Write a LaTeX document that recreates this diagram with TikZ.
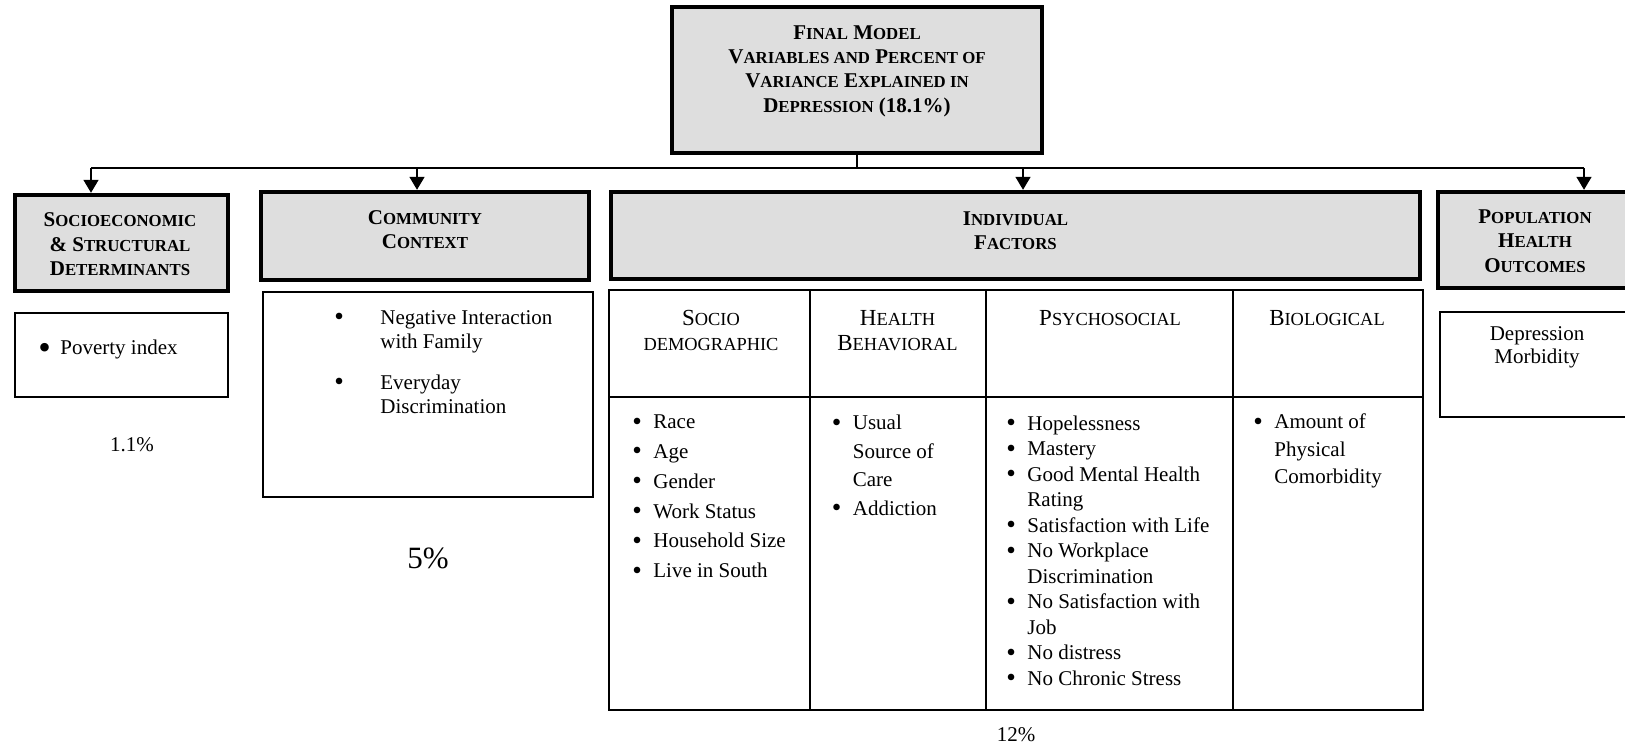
\documentclass[tikz,border=0pt]{standalone}
\usepackage{fontspec}
\setmainfont{Liberation Serif}
\usetikzlibrary{arrows.meta,positioning}
\newcommand{\smc}[1]{\scalebox{0.8}{#1}}
\newcommand{\dotb}{\raisebox{-0.07em}{\scalebox{1.3}{\textbullet}}}
\newcommand{\bul}{\makebox[10.5pt][l]{\dotb}}
\newcommand{\indnt}{\hspace*{10.5pt}}
\newcommand{\cbul}{\makebox[23pt][l]{\dotb}}
\newcommand{\cindnt}{\hspace*{23pt}}
\tikzset{head box/.style={draw,line width=2.2pt,fill=black!13,inner sep=0pt},
         item box/.style={draw,line width=0.8pt,fill=white,inner sep=0pt},
         head text/.style={align=center,inner sep=0pt,font=\bfseries\fontsize{10.5}{12.2}\selectfont},
         cell head/.style={align=center,inner sep=0pt,font=\fontsize{11.5}{12.5}\selectfont},
         item list/.style={align=left,anchor=west,inner sep=0pt},
         pct/.style={inner sep=0pt},
         conn/.style={line width=0.8pt},
}

\begin{document}
\begin{tikzpicture}[x=0.5pt,y=-0.5pt,font=\fontsize{10.5}{12}\selectfont]
\useasboundingbox (0,0) rectangle (1625,747);
% grey heading boxes
\node[head box,minimum width=185pt,minimum height=73pt] (final) at (857,80) {};
\node[head box,minimum width=106.5pt,minimum height=48pt] (soc) at (121.5,243) {};
\node[head box,minimum width=164pt,minimum height=44pt] (com) at (425,236) {};
\node[head box,minimum width=404.5pt,minimum height=43.5pt] (ind) at (1015.5,235.5) {};
\node[head box,minimum width=97pt,minimum height=48pt] (pop) at (1535,240) {};

\node[head text] (final text) at (857,71) {F\smc{INAL} M\smc{ODEL}\\
    V\smc{ARIABLES AND} P\smc{ERCENT OF}\\
    V\smc{ARIANCE} E\smc{XPLAINED IN}\\
    D\smc{EPRESSION} (18.1\%)};
\node[head text] (soc text) at (120,244.5) {S\smc{OCIOECONOMIC}\\ \& S\smc{TRUCTURAL}\\ D\smc{ETERMINANTS}};
\node[head text] (com text) at (425,229.5) {C\smc{OMMUNITY}\\ C\smc{ONTEXT}};
\node[head text] (ind text) at (1015.5,230.5) {I\smc{NDIVIDUAL}\\ F\smc{ACTORS}};
\node[head text] (pop text) at (1535,241) {P\smc{OPULATION}\\ H\smc{EALTH}\\ O\smc{UTCOMES}};

% white boxes
\node[item box,minimum width=106.5pt,minimum height=42pt] (pov) at (121.5,355) {};
\node[item box,minimum width=165pt,minimum height=102.5pt] (comm) at (428,394.5) {};
\node[item box,minimum width=407pt,minimum height=210pt] (tab) at (1016,500) {};
\node[item box,minimum width=97pt,minimum height=52.5pt] (dep) at (1537,364.5) {};

% table rules
\draw[line width=0.8pt] (tab.west |- 0,397) -- (tab.east |- 0,397);
\foreach \x in {810,986,1233}
  \draw[line width=0.8pt] (\x,0 |- tab.north) -- (\x,0 |- tab.south);

\node[cell head] (socio head) at (711,330.5) {S\smc{OCIO}\\ \smc{DEMOGRAPHIC}};
\node[cell head] (behav head) at (897.5,330.5) {H\smc{EALTH}\\ B\smc{EHAVIORAL}};
\node[cell head] (psych head) at (1110,318) {P\smc{SYCHOSOCIAL}};
\node[cell head] (bio head) at (1327,318) {B\smc{IOLOGICAL}};

% lists
\node[item list] (pov list) at (38,350) {\makebox[11pt][l]{\raisebox{-0.25em}{\scalebox{1.7}{\textbullet}}}Poverty index};
\node[item list] (comm list) at (334,362) {\cbul Negative Interaction\\ \cindnt with Family\\[8.5pt]
    \cbul Everyday\\ \cindnt Discrimination};
\node[item list,font=\fontsize{10.5}{14.9}\selectfont] (socio list) at (632,497) {\bul Race\\ \bul Age\\ \bul Gender\\
    \bul Work Status\\ \bul Household Size\\ \bul Live in South};
\node[item list,font=\fontsize{10.5}{14.2}\selectfont] (behav list) at (831.5,466) {\bul Usual\\ \indnt Source of\\ \indnt Care\\ \bul Addiction};
\node[item list,font=\fontsize{10.5}{12.75}\selectfont] (psych list) at (1006,551) {\bul Hopelessness\\ \bul Mastery\\
    \bul Good Mental Health\\ \indnt Rating\\ \bul Satisfaction with Life\\ \bul No Workplace\\
    \indnt Discrimination\\ \bul No Satisfaction with\\ \indnt Job\\ \bul No distress\\ \bul No Chronic Stress};
\node[item list,font=\fontsize{10.5}{13.75}\selectfont] (bio list) at (1253,451) {\bul Amount of\\ \indnt Physical\\ \indnt Comorbidity};
\node[align=center,inner sep=0pt,font=\fontsize{10.5}{11.5}\selectfont] (dep text) at (1537,347) {Depression\\ Morbidity};

% percentages
\node[pct,below=19.5pt of pov,xshift=5.25pt] (pov pct) {1.1\%};
\node[pct,below=24.7pt of comm,font=\fontsize{15.5}{18}\selectfont] (comm pct) {5\%};
\node[pct,below=8pt of tab] (tab pct) {12\%};

% connectors
\coordinate (bus west) at (91,168);
\coordinate (bus east) at (1584,168);
\draw[conn] (final.south) -- (final.south |- bus west);
\draw[conn] (bus west) -- (bus east);
\foreach \x/\n in {91/soc,417/com,1023/ind,1584/pop}
  \draw[conn,-{Triangle[length=6.5pt,width=7.5pt]}] (\x,168) -- (\x,0 |- \n.north);
\end{tikzpicture}
\end{document}
